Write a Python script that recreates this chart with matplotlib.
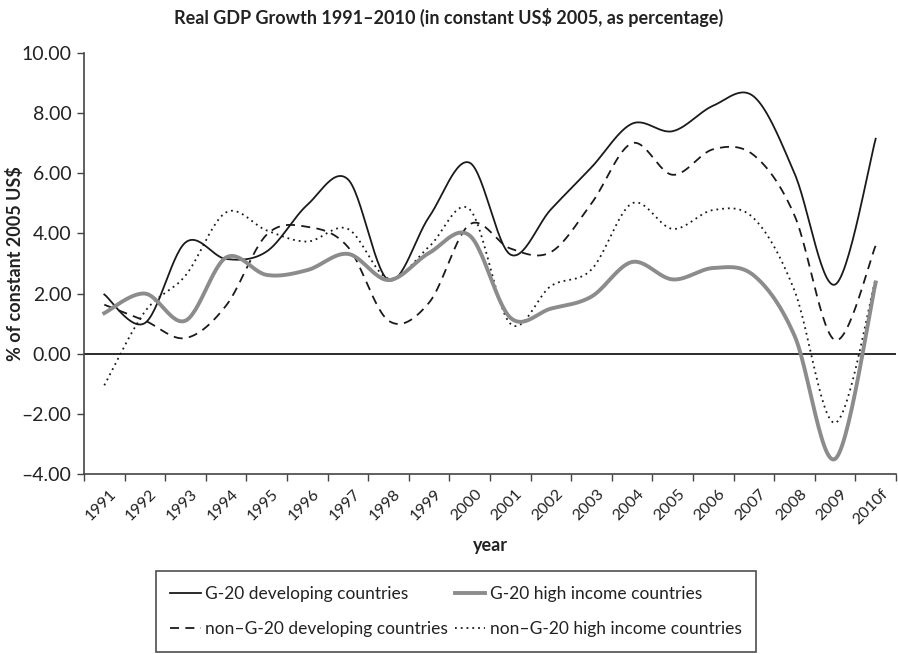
import numpy as np
import matplotlib
matplotlib.use('Agg')
import matplotlib.pyplot as plt
import matplotlib.ticker as ticker

plt.rcParams['font.family'] = ['Lato', 'DejaVu Sans']

years = ['1991', '1992', '1993', '1994', '1995', '1996', '1997', '1998', '1999', '2000',
         '2001', '2002', '2003', '2004', '2005', '2006', '2007', '2008', '2009', '2010f']

g20_dev = [1.97, 1.02, 3.70, 3.15, 3.40, 4.95, 5.80, 2.45, 4.55, 6.35,
           3.30, 4.80, 6.20, 7.65, 7.40, 8.25, 8.55, 6.00, 2.30, 7.15]
g20_high = [1.35, 2.00, 1.10, 3.20, 2.62, 2.78, 3.32, 2.45, 3.35, 3.93,
            1.20, 1.50, 1.90, 3.05, 2.47, 2.85, 2.60, 0.60, -3.50, 2.37]
non_dev = [1.63, 1.10, 0.52, 1.60, 3.96, 4.22, 3.55, 1.10, 1.70, 4.30,
           3.50, 3.38, 5.00, 7.00, 5.95, 6.80, 6.60, 4.60, 0.45, 3.60]
non_high = [-1.05, 1.40, 2.60, 4.70, 4.10, 3.73, 4.15, 2.50, 3.56, 4.80,
            1.00, 2.25, 2.80, 5.00, 4.15, 4.78, 4.50, 2.10, -2.30, 2.50]

labels = ['G-20 developing countries', 'non\u2013G-20 developing countries',
          'G-20 high income countries', 'non\u2013G-20 high income countries']


def smooth(values, steps=30):
    '''
    Excel 风格的平滑曲线（Bezier，控制点取相邻点差的 1/6）
    '''
    y = np.asarray(values, dtype=float)
    x = np.arange(len(y), dtype=float)
    pts = np.column_stack([x, y])
    n = len(pts)
    out = []
    t = np.linspace(0, 1, steps)[:, None]
    for i in range(n - 1):
        p0 = pts[max(i - 1, 0)]
        p1 = pts[i]
        p2 = pts[i + 1]
        p3 = pts[min(i + 2, n - 1)]
        c1 = p1 + (p2 - p0) / 6.0
        c2 = p2 - (p3 - p1) / 6.0
        seg = ((1 - t) ** 3) * p1 + 3 * ((1 - t) ** 2) * t * c1 + 3 * (1 - t) * t ** 2 * c2 + t ** 3 * p2
        out.append(seg if i == 0 else seg[1:])
    curve = np.vstack(out)
    return curve[:, 0], curve[:, 1]


def fmt_y(v, pos):
    # 负号用长划线
    if v < 0:
        return '\u2013%.2f' % abs(v)
    return '%.2f' % v


fig = plt.figure(figsize=(8.98, 6.54), dpi=100)
ax = fig.add_axes([84 / 898, 180 / 654, 812 / 898, 421 / 654])

h1, = ax.plot(*smooth(g20_dev), color='#1a1a1a', lw=1.3, ls='-')
h3, = ax.plot(*smooth(non_dev), color='#1a1a1a', lw=1.3, ls=(0, (5, 3.5)))
h4, = ax.plot(*smooth(non_high), color='#1a1a1a', lw=1.3, ls=(0, (1, 2.2)))
h2, = ax.plot(*smooth(g20_high), color='#8c8c8c', lw=2.8, ls='-')

ax.axhline(0, color='#1a1a1a', lw=1.3, zorder=1)

ax.set_xlim(-0.5, len(years) - 0.5)
ax.set_ylim(-4, 10)
ax.yaxis.set_major_locator(ticker.MultipleLocator(2))
ax.yaxis.set_major_formatter(ticker.FuncFormatter(fmt_y))

# 刻度线在类别之间，标签在类别中间
ax.xaxis.set_major_locator(ticker.FixedLocator(np.arange(-0.5, len(years), 1)))
ax.xaxis.set_major_formatter(ticker.NullFormatter())
ax.xaxis.set_minor_locator(ticker.FixedLocator(np.arange(len(years)) + 0.12))
ax.xaxis.set_minor_formatter(ticker.FixedFormatter(years))
ax.tick_params(axis='x', which='major', length=5, width=1, color='#444444')
ax.tick_params(axis='x', which='minor', length=0, pad=9, labelsize=11.5, labelcolor='#222222')
ax.tick_params(axis='y', length=5, width=1, color='#444444', labelsize=14, labelcolor='#222222', pad=4)
for lab in ax.xaxis.get_minorticklabels():
    lab.set_rotation(45)
    lab.set_ha('right')
    lab.set_va('top')
    lab.set_rotation_mode('anchor')

for s in ['top', 'right']:
    ax.spines[s].set_visible(False)
for s in ['left', 'bottom']:
    ax.spines[s].set_color('#444444')
    ax.spines[s].set_linewidth(1.2)

ax.set_xlabel('year', fontsize=13, fontweight='bold', color='#222222', va='center')
ax.xaxis.set_label_coords(0.5, -72 / 421)
ax.set_ylabel('% of constant 2005 US$', fontsize=13, fontweight='bold', color='#222222', va='center')
ax.yaxis.set_label_coords(-69 / 812, 0.5)
fig.text(0.5, 1 - 17 / 654, 'Real GDP Growth 1991\u20132010 (in constant US$ 2005, as percentage)',
         ha='center', va='center', fontsize=13, fontweight='bold', color='#222222')

leg = fig.legend([h1, h3, h2, h4], labels, loc='lower center', ncol=2,
                 bbox_to_anchor=(456 / 898, 2 / 654), fontsize=12.5, frameon=True,
                 fancybox=False, edgecolor='#222222', handlelength=1.75, handletextpad=0.25,
                 columnspacing=0.4, borderpad=0.85, labelspacing=1.1, borderaxespad=0)
leg.get_frame().set_linewidth(1.2)
for t in leg.get_texts():
    t.set_color('#222222')

plt.savefig('out.png', dpi=100)
